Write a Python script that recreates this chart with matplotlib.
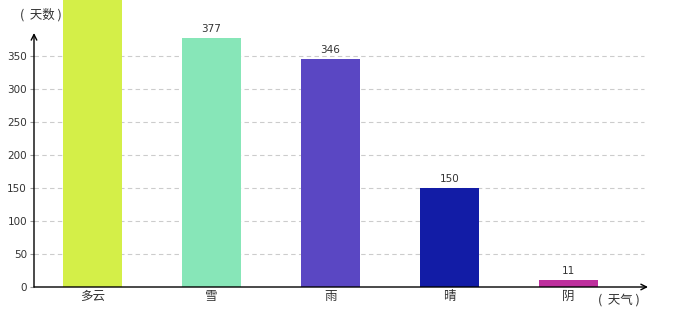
import matplotlib
matplotlib.use("Agg")
import matplotlib.pyplot as plt

plt.rcParams['font.family'] = ['Noto Sans CJK SC', 'DejaVu Sans']

categories = ["多云", "雪", "雨", "晴", "阴"]
values = [470, 377, 346, 150, 11]
colors = ["#d4ef48", "#87e6b8", "#5a47c3", "#121ca6", "#bd2f9d"]
yticks = [0, 50, 100, 150, 200, 250, 300, 350]

fig = plt.figure(figsize=(6.8, 3.2), dpi=100)
ax = fig.add_axes([34/680, 33/320, 614/680, 254/320])
x = list(range(len(categories)))
ax.bar(x, values, width=59/119, color=colors, clip_on=False, zorder=3)
ax.set_xlim(-0.49, 4.67)
ax.set_ylim(0, 385)

for xi, v in zip(x, values):
    if v > 400:
        continue  # label lies beyond the top of the canvas in the reference
    ax.annotate(str(v), (xi, v), xytext=(0, 3), textcoords="offset points",
                ha="center", va="bottom", fontsize=7.5, color="#333333",
                family="DejaVu Sans", annotation_clip=False)

ax.set_yticks(yticks)
ax.set_yticklabels([str(t) for t in yticks], fontsize=7.5, color="#333333", family="DejaVu Sans")
ax.set_xticks(x)
ax.set_xticklabels(categories, fontsize=9, color="#333333")
ax.tick_params(axis="x", length=0, pad=2)
ax.tick_params(axis="y", length=3, width=0.8, color="#999999", pad=2)

for t in yticks[1:]:
    ax.plot([-0.49, 4.64], [t, t], ls=(0, (4, 3)), color="#cccccc", lw=0.8, zorder=1)

for s in ["top", "right", "left", "bottom"]:
    ax.spines[s].set_visible(False)

ax.annotate("", xy=(0, 1.0), xytext=(0, 0), xycoords="axes fraction",
            arrowprops=dict(arrowstyle="->", color="black", lw=1.0, shrinkA=0, shrinkB=0))
ax.annotate("", xy=(1.0, 0), xytext=(0, 0), xycoords="axes fraction",
            arrowprops=dict(arrowstyle="->", color="black", lw=1.0, shrinkA=0, shrinkB=0))

fig.text(20/680, 1 - 15/320, "(  天数 )", fontsize=9, color="#333333", va="center", ha="left")
fig.text(598/680, 1 - 300/320, "(  天气 )", fontsize=9, color="#333333", va="center", ha="left")

fig.savefig("out.png", dpi=100)
